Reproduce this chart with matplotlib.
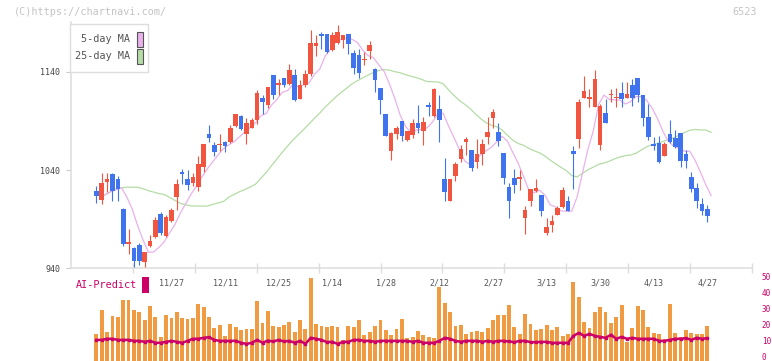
import numpy as np
import pandas as pd
import matplotlib
matplotlib.use("Agg")
import matplotlib.pyplot as plt
from matplotlib.patches import Rectangle

plt.rcParams['font.family'] = ['DejaVu Sans Mono', 'DejaVu Sans']

# ---------------- data ----------------
opens = [1018.6, 1009.7, 1027.4, 1035.9, 1030.8, 1000.2, 965.0, 960.7, 963.5, 946.4,
         962.4, 972.3, 995.1, 973.0, 988.3, 1012.8, 1037.6, 1030.5, 1027.0, 1023.0,
         1042.8, 1076.7, 1065.5, 1065.0, 1068.9, 1068.2, 1085.2, 1094.8, 1076.7, 1083.2,
         1090.4, 1113.5, 1106.3, 1136.3, 1126.8, 1133.6, 1127.8, 1137.0, 1112.5, 1126.1,
         1138.0, 1165.9, 1178.8, 1178.8, 1161.8, 1169.2, 1172.7, 1178.8, 1159.4, 1157.4,
         1152.0, 1161.4, 1143.1, 1123.7, 1097.2, 1059.7, 1076.7, 1090.0, 1071.0, 1075.7,
         1088.0, 1080.2, 1106.3, 1094.8, 1101.6, 1030.8, 1008.7, 1034.2, 1051.2, 1068.9,
         1060.4, 1047.8, 1056.3, 1074.0, 1092.7, 1079.1, 1057.4, 1022.3, 1031.8, 1031.2,
         991.0, 1008.7, 1018.9, 1014.5, 975.7, 984.2, 994.4, 1002.6, 1008.7, 1059.7,
         1071.6, 1113.5, 1112.5, 1104.6, 1065.5, 1098.2, 1116.5, 1112.8, 1118.6, 1113.5,
         1126.7, 1133.9, 1115.9, 1093.8, 1066.5, 1067.5, 1054.6, 1076.7, 1072.7, 1077.8,
         1056.3, 1033.2, 1021.6, 1005.3, 1000.2]
highs = [1023.7, 1037.0, 1037.0, 1036.5, 1034.2, 1000.9, 979.8, 961.4, 965.8, 957.0,
         973.7, 992.0, 997.5, 994.0, 1000.9, 1030.8, 1040.7, 1039.7, 1037.0, 1053.9,
         1066.5, 1085.9, 1068.9, 1076.7, 1069.5, 1085.9, 1097.2, 1095.5, 1092.7, 1092.7,
         1121.6, 1116.5, 1124.4, 1136.3, 1132.9, 1133.6, 1148.2, 1142.4, 1131.2, 1141.4,
         1182.9, 1177.1, 1180.5, 1178.8, 1180.5, 1188.0, 1177.8, 1178.8, 1161.8, 1163.5,
         1160.0, 1171.0, 1143.8, 1123.7, 1097.2, 1079.1, 1084.6, 1090.0, 1080.2, 1092.0,
         1106.3, 1093.8, 1109.0, 1123.3, 1116.5, 1051.9, 1030.8, 1047.8, 1065.5, 1073.3,
         1060.4, 1071.6, 1071.6, 1093.8, 1101.6, 1088.0, 1057.4, 1026.7, 1041.0, 1040.3,
         1003.6, 1020.6, 1030.8, 1014.5, 990.7, 994.0, 1003.6, 1022.3, 1013.8, 1064.8,
         1112.5, 1135.3, 1122.7, 1142.0, 1107.4, 1111.8, 1122.7, 1123.7, 1129.5, 1129.5,
         1132.2, 1133.9, 1116.5, 1107.4, 1073.3, 1075.0, 1068.9, 1090.4, 1081.2, 1077.8,
         1060.8, 1038.3, 1026.7, 1011.4, 1004.3]
lows = [1006.7, 1005.3, 1017.2, 1008.4, 1008.7, 962.8, 954.3, 941.0, 943.0, 941.0,
        961.4, 971.3, 973.7, 972.0, 987.3, 999.5, 1026.0, 1019.6, 1023.7, 1018.6,
        1038.3, 1068.9, 1054.0, 1059.7, 1058.7, 1067.5, 1083.5, 1081.0, 1066.5, 1082.5,
        1087.0, 1097.2, 1102.9, 1112.5, 1116.5, 1124.0, 1126.7, 1110.0, 1111.8, 1124.4,
        1135.6, 1156.0, 1162.8, 1159.4, 1161.1, 1168.6, 1164.2, 1158.4, 1138.0, 1133.6,
        1146.5, 1153.3, 1119.3, 1096.5, 1075.0, 1050.5, 1071.6, 1069.9, 1069.6, 1072.3,
        1077.8, 1065.5, 1094.8, 1093.8, 1068.9, 1008.7, 1008.7, 1029.0, 1048.5, 1055.3,
        1039.3, 1041.7, 1045.1, 1066.5, 1082.5, 1064.8, 1025.7, 991.0, 1016.5, 1020.0,
        974.7, 1002.9, 1017.2, 992.8, 974.0, 977.1, 994.1, 1001.2, 997.8, 1020.6,
        1062.5, 1113.5, 1104.0, 1104.0, 1060.8, 1087.6, 1109.7, 1104.0, 1104.0, 1113.5,
        1105.0, 1109.0, 1084.6, 1071.0, 1060.8, 1047.2, 1054.6, 1067.5, 1062.5, 1042.7,
        1041.7, 1017.2, 1000.9, 994.1, 986.6]
closes = [1013.1, 1026.7, 1030.8, 1018.6, 1020.6, 964.5, 965.5, 947.1, 947.1, 956.6,
          967.5, 989.0, 976.4, 992.7, 999.5, 1025.7, 1036.2, 1024.7, 1032.9, 1045.8,
          1066.5, 1072.3, 1058.7, 1065.5, 1064.8, 1083.2, 1097.2, 1081.8, 1088.0, 1091.0,
          1117.9, 1109.7, 1124.4, 1116.5, 1127.1, 1126.7, 1142.1, 1110.8, 1126.7, 1138.0,
          1169.6, 1169.6, 1176.4, 1160.1, 1177.8, 1180.5, 1177.8, 1168.6, 1144.1, 1139.0,
          1152.3, 1167.6, 1131.2, 1110.8, 1075.0, 1077.8, 1082.9, 1075.0, 1079.5, 1088.0,
          1082.5, 1089.3, 1104.6, 1122.0, 1090.4, 1017.9, 1030.8, 1046.1, 1061.4, 1071.6,
          1042.0, 1056.3, 1066.5, 1079.1, 1099.5, 1069.9, 1031.8, 1008.7, 1025.0, 1031.5,
          999.2, 1020.6, 1021.6, 998.5, 982.5, 988.3, 1001.2, 1019.6, 998.5, 1056.3,
          1109.7, 1120.0, 1113.5, 1132.9, 1105.0, 1087.6, 1117.5, 1113.1, 1112.5, 1117.6,
          1113.5, 1116.5, 1093.1, 1074.0, 1064.8, 1048.5, 1066.5, 1068.2, 1063.1, 1049.5,
          1048.9, 1020.6, 1008.0, 998.5, 993.4]

# moving-average values before enough history is visible
ma5_head = [1013.0, 1015.0, 1018.0, 1020.0]
ma25_head = [1012.0, 1015.0, 1018.0, 1021.0, 1022.0, 1022.5, 1022.5, 1022.5, 1021.0, 1019.0,
             1017.5, 1016.0, 1015.0, 1012.0, 1009.0, 1006.0, 1004.5, 1003.5, 1003.3, 1003.3,
             1003.3, 1005.0, 1006.5, 1008.0]

volume = [14.4, 29.4, 15.6, 25.6, 25.0, 35.6, 35.6, 29.4, 28.1, 23.1,
          31.9, 25.0, 12.5, 26.3, 24.4, 28.1, 24.4, 23.8, 24.4, 33.1,
          31.3, 25.0, 18.1, 20.0, 13.1, 20.6, 18.8, 16.9, 17.5, 17.5,
          35.0, 21.3, 28.8, 19.4, 18.8, 20.0, 21.9, 15.6, 23.1, 17.5,
          49.4, 20.6, 19.4, 18.8, 19.4, 18.8, 10.6, 19.4, 18.8, 23.1,
          13.8, 15.6, 19.4, 23.1, 16.9, 13.8, 17.5, 23.8, 11.9, 12.5,
          16.3, 13.8, 12.5, 11.9, 43.8, 33.8, 28.1, 19.4, 20.0, 14.4,
          15.6, 16.3, 15.6, 18.1, 23.1, 26.3, 26.3, 32.5, 18.8, 14.4,
          26.9, 20.6, 16.9, 17.5, 20.0, 16.9, 18.8, 13.1, 14.4, 46.9,
          37.5, 21.9, 18.1, 28.1, 31.3, 28.1, 21.3, 25.0, 32.5, 9.4,
          18.1, 31.9, 29.4, 18.8, 15.0, 14.4, 11.3, 33.1, 15.0, 12.5,
          16.9, 15.0, 14.4, 14.4, 19.4]

ai_predict = [10.6, 10.6, 11.3, 11.3, 10.6, 10.6, 10.6, 10.0, 10.0, 9.4,
              10.0, 8.8, 8.8, 9.4, 10.0, 9.4, 8.8, 10.0, 11.3, 11.3,
              11.9, 12.3, 10.6, 10.0, 10.0, 10.0, 10.0, 8.8, 8.1, 8.8,
              10.6, 8.8, 10.2, 9.6, 10.6, 9.6, 10.0, 8.8, 10.0, 8.1,
              11.9, 11.3, 10.6, 9.2, 9.4, 8.1, 9.4, 9.4, 10.6, 10.6,
              10.0, 10.0, 9.4, 10.0, 10.0, 10.0, 10.0, 10.0, 10.0, 9.4,
              10.0, 8.8, 8.8, 8.8, 10.0, 11.9, 11.3, 10.0, 9.4, 10.0,
              10.0, 10.0, 9.4, 10.0, 9.4, 10.0, 10.0, 9.6, 9.2, 10.0,
              10.0, 9.2, 9.2, 9.4, 9.4, 8.8, 8.8, 8.8, 8.8, 13.1,
              15.0, 13.1, 14.4, 13.1, 12.5, 11.9, 13.8, 11.3, 12.5, 11.3,
              11.9, 11.3, 11.3, 11.3, 11.3, 10.0, 10.0, 10.6, 11.3, 11.3,
              11.7, 10.6, 11.9, 11.3, 11.7]

date_labels = ["11/27", "12/11", "12/25", "1/14", "1/28", "2/12", "2/27",
               "3/13", "3/30", "4/13", "4/27"]
date_label_idx = [14, 24, 34, 44, 54, 64, 74, 84, 94, 104, 114]
price_ticks = [940, 1040, 1140]
vol_ticks = [0, 10, 20, 30, 40, 50]

# ---------------- styles ----------------
UP = '#f2553f'
DOWN = '#4073ee'
MA5_C = '#e9b2ea'
MA25_C = '#b5dca6'
VOL_C = '#f09a42'
AI_C = '#cc0066'
GRID_C = '#dddddd'

W, H = 772, 361
fig = plt.figure(figsize=(W / 100, H / 100), dpi=100)


def rect(x0, y0, x1, y1):
    return [x0 / W, 1 - y1 / H, (x1 - x0) / W, (y1 - y0) / H]


idx = np.arange(len(closes))
o = np.array(opens); c = np.array(closes); h = np.array(highs); l = np.array(lows)

s = pd.Series(c)
ma5 = s.rolling(5).mean().to_numpy()
ma5[:len(ma5_head)] = ma5_head
ma25 = s.rolling(25).mean().to_numpy()
ma25[:len(ma25_head)] = ma25_head

X0, X1 = -4.74, 122.33
ma_shift = 0.7

# ---------------- main price axes ----------------
ax = fig.add_axes(rect(71, 22, 752, 268.3))
ax.set_xlim(X0, X1)
ax.set_ylim(940, 1190.6)

ax.plot(idx + ma_shift, ma25, color=MA25_C, lw=0.9, zorder=2)
ax.plot(idx + ma_shift, ma5, color=MA5_C, lw=0.9, zorder=2)

up = c >= o
cols = np.where(up, UP, DOWN)
ax.vlines(idx, l, h, colors=cols, lw=0.8, zorder=3)
body_bottom = np.minimum(o, c)
body_h = np.maximum(np.abs(c - o), 1.3)
ax.bar(idx, body_h, bottom=body_bottom, width=0.86, color=cols, lw=0, zorder=4)

for sp in ['top', 'right']:
    ax.spines[sp].set_visible(False)
for sp in ['bottom', 'left']:
    ax.spines[sp].set_color(GRID_C)
    ax.spines[sp].set_linewidth(1.1)

ax.set_yticks(price_ticks)
ax.set_yticklabels([str(v) for v in price_ticks])
ax.tick_params(axis='y', length=3.6, width=0.8, color='#cccccc', labelsize=6,
               labelcolor='#444444', pad=4)
ax.set_xticks(np.linspace(X0, X1, 12)[1:])
ax.tick_params(axis='x', which='major', direction='inout', length=6.5, width=1.0,
               color=GRID_C, labelbottom=False)
ax.set_xticks(date_label_idx, minor=True)
ax.set_xticklabels(date_labels, minor=True)
ax.tick_params(axis='x', which='minor', length=0, pad=7.5, labelsize=6,
               labelcolor='#555555')

# ---------------- volume / AI axes ----------------
vax = fig.add_axes(rect(71, 275, 752, 361))
vax.set_xlim(X0, X1)
vbot = -2.6
vax.set_ylim(vbot, 51.2)
vax.bar(idx, np.array(volume) - vbot, bottom=vbot, width=0.72, color=VOL_C, lw=0, zorder=2)
vax.plot(idx, ai_predict, color=AI_C, lw=1.8, marker='s', ms=1.8, zorder=3)
for sp in vax.spines.values():
    sp.set_visible(False)
vax.set_xticks([])
vax.yaxis.tick_right()
vax.set_yticks(vol_ticks)
vax.set_yticklabels([str(v) for v in vol_ticks])
vax.tick_params(axis='y', length=0, pad=7, labelsize=5.5, labelcolor=AI_C)
vax.patch.set_alpha(0)

# ---------------- overlay: legend & texts (pixel coords) ----------------
ov = fig.add_axes([0, 0, 1, 1], zorder=10)
ov.set_xlim(0, W)
ov.set_ylim(H, 0)
ov.axis('off')

ov.text(14, 12, "(C)https://chartnavi.com/", fontsize=7.3, color='#c4c4c4',
        ha='left', va='center')
ov.text(757, 12, "6523", fontsize=7.3, color='#c4c4c4', ha='right', va='center')

ov.add_patch(Rectangle((70, 24), 78, 48, fc='white', ec=GRID_C, lw=1.0))
ov.text(130, 39, "5-day MA", fontsize=7.3, color='#555555', ha='right', va='center')
ov.text(130, 56, "25-day MA", fontsize=7.3, color='#555555', ha='right', va='center')
ov.add_patch(Rectangle((136.5, 31.5), 6, 15, fc=MA5_C, ec='#555555', lw=0.8))
ov.add_patch(Rectangle((136.5, 48.5), 6, 15, fc=MA25_C, ec='#555555', lw=0.8))

ov.text(76, 285.5, "AI-Predict", fontsize=7.3, color=AI_C, ha='left', va='center')
ov.add_patch(Rectangle((142, 277), 7, 16, fc=AI_C, ec='none'))

fig.savefig("out.png", dpi=100)
